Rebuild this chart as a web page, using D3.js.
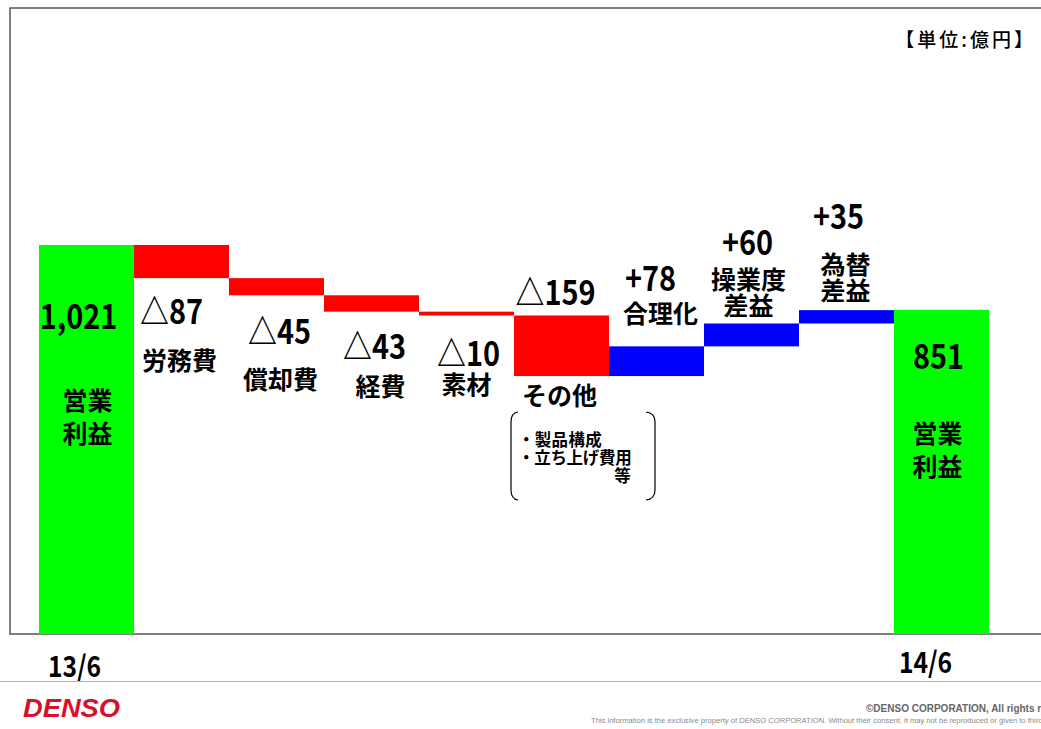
<!DOCTYPE html>
<html>
<head>
<meta charset="utf-8">
<script src="https://cdn.jsdelivr.net/npm/d3@7"></script>
<style>
  body { margin: 0; background: #fff; }
  svg { display: block; }
</style>
</head>
<body>
<div id="chart"></div>
<script>
// data (億円)
const categories = ["13/6", "労務費", "償却費", "経費", "素材", "その他", "合理化", "操業度差益", "為替差益", "14/6"];
const values = [1021, -87, -45, -43, -10, -159, 78, 60, 35, 851];
const kinds = ["total", "delta", "delta", "delta", "delta", "delta", "delta", "delta", "delta", "total"];
const valueLabels = ["1,021", "△87", "△45", "△43", "△10", "△159", "+78", "+60", "+35", "851"];
const nameLabels = [["営業", "利益"], ["労務費"], ["償却費"], ["経費"], ["素材"], ["その他"], ["合理化"], ["操業度", "差益"], ["為替", "差益"], ["営業", "利益"]];
const periodLabels = ["13/6", "14/6"];
const noteLines = ["・製品構成", "・立ち上げ費用", "等"];
const unitLabel = "【単位:億円】";

// label nudges, relative to each bar (layout only)
const valueDx = [-8, -10, 3, 3, 2, -6, -6, -4, -8, -3];
const valueDy = [84, 46, 49, 47, 51, -10, -55, -68, -81, 59];
const nameDx = [1, -2, 4, 9, 0, -2, 4, -3, -1, -4];
const nameDy = [81, 46, 45, 37, 28, 100, 32, 34, 45, 74];

const W = 1041, H = 729;
const jpFont = "'Noto Sans CJK JP', sans-serif";
const squeeze = 0.85; // the slide font is narrower than Noto

const svg = d3.select("#chart").append("svg")
  .attr("width", W)
  .attr("height", H);

// waterfall start/end
let running = 0;
const bars = values.map((v, i) => {
  let start, end;
  if (kinds[i] === "total") {
    start = 0; end = v;
  } else {
    start = running; end = running + v;
  }
  running = end;
  return { i, v, start, end, kind: kinds[i] };
});

const x = d3.scaleBand().domain(d3.range(categories.length)).range([39, 989]).padding(0);
const y = d3.scaleLinear().domain([0, 1000]).range([634, 253]);
const bw = x.bandwidth();

const color = (d) => d.kind === "total" ? "#00ff00" : (d.v < 0 ? "#ff0000" : "#0000ff");

// frame
svg.append("path")
  .attr("d", `M${W + 5},8 H10 V634 H${W + 5}`)
  .attr("fill", "none")
  .attr("stroke", "#555")
  .attr("stroke-width", 1.5);

svg.append("g")
  .selectAll("rect")
  .data(bars)
  .enter()
  .append("rect")
  .attr("x", (d) => x(d.i))
  .attr("width", bw)
  .attr("y", (d) => y(Math.max(d.start, d.end)))
  .attr("height", (d) => Math.abs(y(d.start) - y(d.end)))
  .attr("fill", color);

// value labels
const valueBase = (d) => {
  if (d.kind === "total") return y(d.end) + valueDy[d.i];
  if (d.v > 0 || Math.abs(d.v) > 100) return y(Math.max(d.start, d.end)) + valueDy[d.i];
  return y(Math.min(d.start, d.end)) + valueDy[d.i];
};

svg.append("g")
  .selectAll("text")
  .data(bars)
  .enter()
  .append("text")
  .attr("transform", (d) => `translate(${x(d.i) + bw / 2 + valueDx[d.i]},${valueBase(d)}) scale(${squeeze},1)`)
  .attr("text-anchor", "middle")
  .attr("font-family", jpFont)
  .attr("font-weight", "bold")
  .attr("font-size", 34)
  .text((d) => valueLabels[d.i]);

// category names
const names = svg.append("g")
  .selectAll("text")
  .data(bars)
  .enter()
  .append("text")
  .attr("x", (d) => x(d.i) + bw / 2 + nameDx[d.i])
  .attr("y", (d) => {
    if (d.i === 5) return y(d.end) + 29;
    return valueBase(d) + nameDy[d.i];
  })
  .attr("text-anchor", "middle")
  .attr("font-family", jpFont)
  .attr("font-weight", "bold")
  .attr("font-size", 25);

names.selectAll("tspan")
  .data((d) => nameLabels[d.i].map((t, k) => ({ t, k, d })))
  .enter()
  .append("tspan")
  .attr("x", (e) => x(e.d.i) + bw / 2 + nameDx[e.d.i])
  .attr("dy", (e) => e.k === 0 ? 0 : (e.d.kind === "total" ? 33 : 26))
  .text((e) => e.t);

// period labels under the total bars
const totals = bars.filter((d) => d.kind === "total");
svg.append("g")
  .selectAll("text")
  .data(totals)
  .enter()
  .append("text")
  .attr("transform", (d, k) => `translate(${x(d.i) + bw / 2 - (k === 0 ? 12 : 16)},${k === 0 ? 677 : 673}) scale(${squeeze},1)`)
  .attr("text-anchor", "middle")
  .attr("font-family", jpFont)
  .attr("font-weight", "bold")
  .attr("font-size", 29)
  .text((d, k) => periodLabels[k]);

// note box under その他
const nx = x(5);
const note = svg.append("g");
note.append("path")
  .attr("d", `M${nx + 4},412 Q${nx - 3},413 ${nx - 3},422 V490 Q${nx - 3},499 ${nx + 4},500`)
  .attr("fill", "none").attr("stroke", "#000").attr("stroke-width", 1.2);
note.append("path")
  .attr("d", `M${nx + 132},412 Q${nx + 141},413 ${nx + 141},422 V490 Q${nx + 141},499 ${nx + 132},500`)
  .attr("fill", "none").attr("stroke", "#000").attr("stroke-width", 1.2);
note.selectAll("text")
  .data(noteLines)
  .enter()
  .append("text")
  .attr("x", (d, k) => k === 2 ? nx + 117 : nx + 4)
  .attr("y", (d, k) => 446 + k * 18)
  .attr("text-anchor", (d, k) => k === 2 ? "end" : "start")
  .attr("font-family", jpFont)
  .attr("font-weight", "bold")
  .attr("font-size", 16.5)
  .attr("letter-spacing", (d, k) => k === 1 ? -0.3 : 0.3)
  .text((d) => d);

// unit
svg.append("text")
  .attr("x", 1036)
  .attr("y", 47)
  .attr("text-anchor", "end")
  .attr("font-family", jpFont)
  .attr("font-weight", 500)
  .attr("font-size", 19)
  .attr("letter-spacing", 3)
  .text(unitLabel);

// footer
svg.append("line")
  .attr("x1", 0).attr("x2", W)
  .attr("y1", 681.5).attr("y2", 681.5)
  .attr("stroke", "#b4b4b4").attr("stroke-width", 1);

svg.append("text")
  .attr("x", 23)
  .attr("y", 717)
  .attr("font-family", "'Liberation Sans', sans-serif")
  .attr("font-weight", "bold")
  .attr("font-style", "italic")
  .attr("font-size", 25)
  .attr("textLength", 97)
  .attr("lengthAdjust", "spacingAndGlyphs")
  .attr("fill", "#d8112b")
  .text("DENSO");

svg.append("text")
  .attr("x", 866)
  .attr("y", 712)
  .attr("font-family", "'Liberation Sans', sans-serif")
  .attr("font-weight", "bold")
  .attr("font-size", 10)
  .attr("fill", "#666")
  .text("©DENSO CORPORATION, All rights reserved.");

svg.append("text")
  .attr("x", 591)
  .attr("y", 723)
  .attr("font-family", "'Liberation Sans', sans-serif")
  .attr("font-size", 7.6)
  .attr("fill", "#8a8a8a")
  .text("This information is the exclusive property of DENSO CORPORATION.  Without their consent, it may not be reproduced or given to third parties.");
</script>
</body>
</html>
